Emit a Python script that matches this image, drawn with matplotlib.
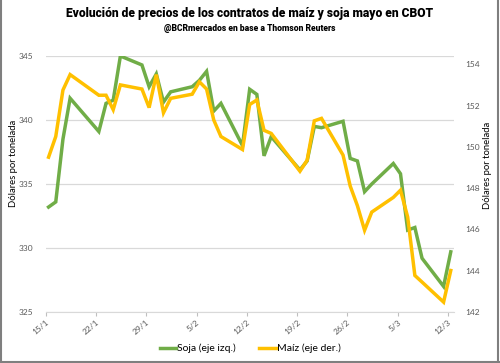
import numpy as np
import matplotlib
matplotlib.use("Agg")
import matplotlib.pyplot as plt
from matplotlib.lines import Line2D

# Datos (precios en US$/t, contratos mayo CBOT)
fechas = ['15/1', '16/1', '17/1', '18/1', '22/1', '23/1', '24/1', '25/1', '28/1', '29/1',
          '30/1', '31/1', '1/2', '4/2', '5/2', '6/2', '7/2', '8/2', '11/2', '12/2',
          '13/2', '14/2', '15/2', '19/2', '20/2', '21/2', '22/2', '25/2', '26/2', '27/2',
          '28/2', '1/3', '4/3', '5/3', '6/3', '7/3', '8/3', '11/3', '12/3']
soja = [333.2, 333.6, 338.5, 341.7, 339.1, 341.3, 341.55, 345.0, 344.3, 342.6,
        343.6, 341.4, 342.2, 342.6, 343.1, 343.8, 340.7, 341.3, 338.0, 342.4,
        342.0, 337.2, 338.7, 336.1, 336.8, 339.5, 339.4, 339.9, 337.0, 336.8,
        334.4, 335.0, 336.6, 335.8, 331.4, 331.6, 329.2, 327.0, 329.7]
maiz = [149.5, 150.5, 152.75, 153.5, 152.5, 152.5, 151.8, 153.0, 152.8, 151.9,
        153.5, 151.65, 152.35, 152.55, 153.15, 152.8, 151.3, 150.5, 149.87, 152.05,
        152.27, 150.8, 150.65, 148.82, 149.35, 151.26, 151.38, 149.6, 148.1, 147.15,
        145.96, 146.84, 147.55, 147.9, 146.6, 143.77, 143.45, 142.48, 144.01]
etiquetas_x = ['15/1', '22/1', '29/1', '5/2', '12/2', '19/2', '26/2', '5/3', '12/3']


def a_dias(txt):
    d, m = txt.split('/')
    f = np.datetime64('2019-%02d-%02d' % (int(m), int(d)))
    return (f - np.datetime64('2019-01-15')).astype(int)


dias = np.array([a_dias(f) for f in fechas])
ticks = np.array([a_dias(f) for f in etiquetas_x]) - 0.4

verde = '#70AD47'
amarillo = '#FFC000'
gris = '#595959'
fuente = ['Lato', 'DejaVu Sans']
fuente_tit = ['Roboto', 'DejaVu Sans']

fig = plt.figure(figsize=(5.0, 3.63), dpi=100)
ax = fig.add_axes([0.0914, 0.1405, 0.8166, 0.7052])
ax2 = ax.twinx()

l1, = ax.plot(dias, soja, color=verde, lw=2.5, solid_joinstyle='miter', label='Soja (eje izq.)')
l2, = ax2.plot(dias, maiz, color=amarillo, lw=2.5, solid_joinstyle='miter', label='Maíz (eje der.)')

ax.set_xlim(-0.4, 56.45)
ax.set_ylim(325, 345)
ax.set_yticks([325, 330, 335, 340, 345])
ax2.set_ylim(142, 154.4)
ax2.set_yticks([142, 144, 146, 148, 150, 152, 154])

ax.set_xticks(ticks)
ax.set_xticklabels(etiquetas_x, rotation=40, ha='right', va='top',
                   rotation_mode='anchor', fontsize=6, color=gris, family=fuente)
ax.tick_params(axis='x', length=3, color='#bfbfbf', pad=2)
ax.tick_params(axis='y', length=0, labelsize=6, labelcolor=gris, pad=9)
ax2.tick_params(axis='y', length=0, labelsize=6, labelcolor=gris, pad=8)
for lab in ax.get_yticklabels() + ax2.get_yticklabels():
    lab.set_family(fuente)

ax.grid(axis='y', color='#d9d9d9', lw=0.9)
ax.set_axisbelow(True)
for a in (ax, ax2):
    for s in ['top', 'left', 'right']:
        a.spines[s].set_visible(False)
    a.spines['bottom'].set_color('#d9d9d9')
ax2.spines['bottom'].set_visible(False)

fig.text(0.028, 0.55, 'Dólares por tonelada', rotation=90, ha='center', va='center',
         fontsize=6.8, family=fuente)
fig.text(0.974, 0.545, 'Dólares por tonelada', rotation=90, ha='center', va='center',
         fontsize=6.8, family=fuente)

titulo = fig.text(0.5, 0.962, 'Evolución de precios de los contratos de maíz y soja mayo en CBOT',
                  ha='center', va='center', fontsize=10, fontweight='black',
                  family=fuente_tit)
subtitulo = fig.text(0.5, 0.922, '@BCRmercados en base a Thomson Reuters',
                     ha='center', va='center', fontsize=7, fontweight='black',
                     family=fuente_tit)

# ajustar el ancho de los títulos al original
r = fig.canvas.get_renderer()
for t, ancho in [(titulo, 366), (subtitulo, 172)]:
    w = t.get_window_extent(r).width
    t.set_fontsize(t.get_fontsize() * ancho / w)

fig.legend(handles=[l1, l2], loc='center', bbox_to_anchor=(0.5, 0.04), ncol=2,
           frameon=False, prop={'family': fuente, 'size': 7.5},
           handlelength=1.6, handletextpad=0.1, columnspacing=2.2)

# marco exterior
borde = dict(color='#7f7f7f', lw=1.5, transform=fig.transFigure)
fig.add_artist(Line2D([0.002, 0.002], [0, 1], **borde))
fig.add_artist(Line2D([0.996, 0.996], [0, 1], **borde))
fig.add_artist(Line2D([0, 1], [0.004, 0.004], **borde))

fig.savefig('out.png', dpi=100)
